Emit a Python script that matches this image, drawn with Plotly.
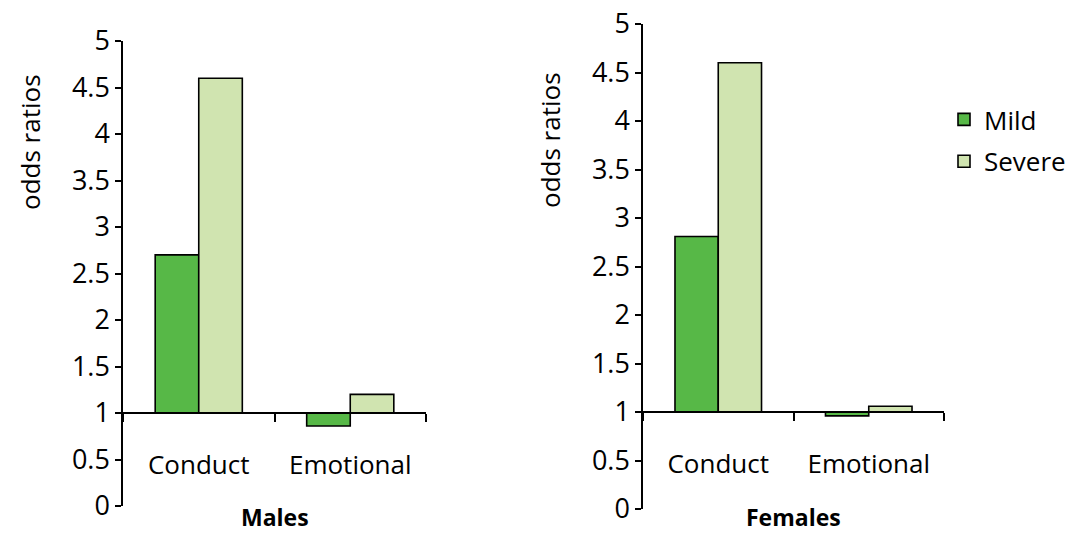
import plotly.graph_objects as go

# ---- data ----
categories = ["Conduct", "Emotional"]
males_mild = [2.70, 0.86]
males_severe = [4.60, 1.20]
females_mild = [2.81, 0.96]
females_severe = [4.60, 1.06]
series_names = ["Mild", "Severe"]
panel_titles = ["Males", "Females"]
y_tick_vals = [0, 0.5, 1, 1.5, 2, 2.5, 3, 3.5, 4, 4.5, 5]
y_tick_text = ["0", "0.5", "1", "1.5", "2", "2.5", "3", "3.5", "4", "4.5", "5"]
BASE = 1.0
Y_RANGE = [0, 5]

# ---- style ----
FONT = "Open Sans"
C_MILD = "#57B847"
C_SEVERE = "#D0E4B0"

W, H = 1074, 535
left_x = [123 / W, 426 / W]
right_x = [643 / W, 944 / W]
left_y = [1 - 506 / H, 1 - 41 / H]
right_y = [1 - 509 / H, 1 - 24 / H]

fig = go.Figure()

panels = [
    ("x", "y", males_mild, males_severe, False),
    ("x2", "y2", females_mild, females_severe, True),
]
for xa, ya, mild, severe, show in panels:
    for name, vals, col in [(series_names[0], mild, C_MILD), (series_names[1], severe, C_SEVERE)]:
        fig.add_trace(go.Bar(
            x=categories, y=[v - BASE for v in vals], base=BASE,
            name=name, legendgroup=name, showlegend=show,
            marker=dict(color=col, line=dict(color="black", width=1.6)),
            xaxis=xa, yaxis=ya,
        ))


def xpos(dom):
    return dom[0] + (dom[1] - dom[0]) * (BASE - Y_RANGE[0]) / (Y_RANGE[1] - Y_RANGE[0])


common_y = dict(
    range=Y_RANGE, tickvals=y_tick_vals, ticktext=y_tick_text,
    showline=True, linecolor="black", linewidth=1.5,
    ticks="outside", ticklen=6, tickwidth=1.5, tickcolor="black",
    showgrid=False, zeroline=False, automargin=False,
    tickfont=dict(family=FONT, size=27, color="black"),
)
common_x = dict(
    showline=True, linecolor="black", linewidth=1.5,
    ticks="outside", ticklen=8, tickwidth=1.5, tickcolor="black",
    tickson="boundaries", showgrid=False, zeroline=False, automargin=False,
    tickfont=dict(family=FONT, size=26, color="black"),
    ticklabelstandoff=29,
)

fig.update_layout(
    template="none",
    width=W, height=H,
    margin=dict(l=0, r=0, t=0, b=0, autoexpand=False),
    paper_bgcolor="white", plot_bgcolor="white",
    barmode="group", bargap=0.425, bargroupgap=0,
    xaxis=dict(domain=left_x, anchor="free", position=xpos(left_y), **common_x),
    yaxis=dict(domain=left_y, anchor="x", **common_y),
    xaxis2=dict(domain=right_x, anchor="free", position=xpos(right_y), **common_x),
    yaxis2=dict(domain=right_y, anchor="x2", **common_y),
    legend=dict(
        xref="container", yref="container",
        x=944 / W, y=1 - 96 / H, xanchor="left", yanchor="top",
        font=dict(family=FONT, size=26, color="black"),
        traceorder="grouped", tracegroupgap=5,
        bgcolor="rgba(0,0,0,0)", borderwidth=0,
    ),
    showlegend=True,
)

annotations = []
for title, xd in [(panel_titles[0], "x domain"), (panel_titles[1], "x2 domain")]:
    annotations.append(dict(
        text="<b>" + title + "</b>", xref=xd, x=0.5, yref="paper", y=0,
        xanchor="center", yanchor="bottom", showarrow=False,
        font=dict(family=FONT, size=23, color="black"),
    ))
for xp, yp in [(30, 142), (550, 140)]:
    annotations.append(dict(
        text="odds ratios", textangle=-90, xref="paper", x=xp / W, yref="paper", y=1 - yp / H,
        xanchor="center", yanchor="middle", showarrow=False,
        font=dict(family=FONT, size=26, color="black"),
    ))
fig.update_layout(annotations=annotations)

fig.write_html(
    "out.html",
    config={"displayModeBar": False},
    post_script="document.body.style.margin='0px';",
)
